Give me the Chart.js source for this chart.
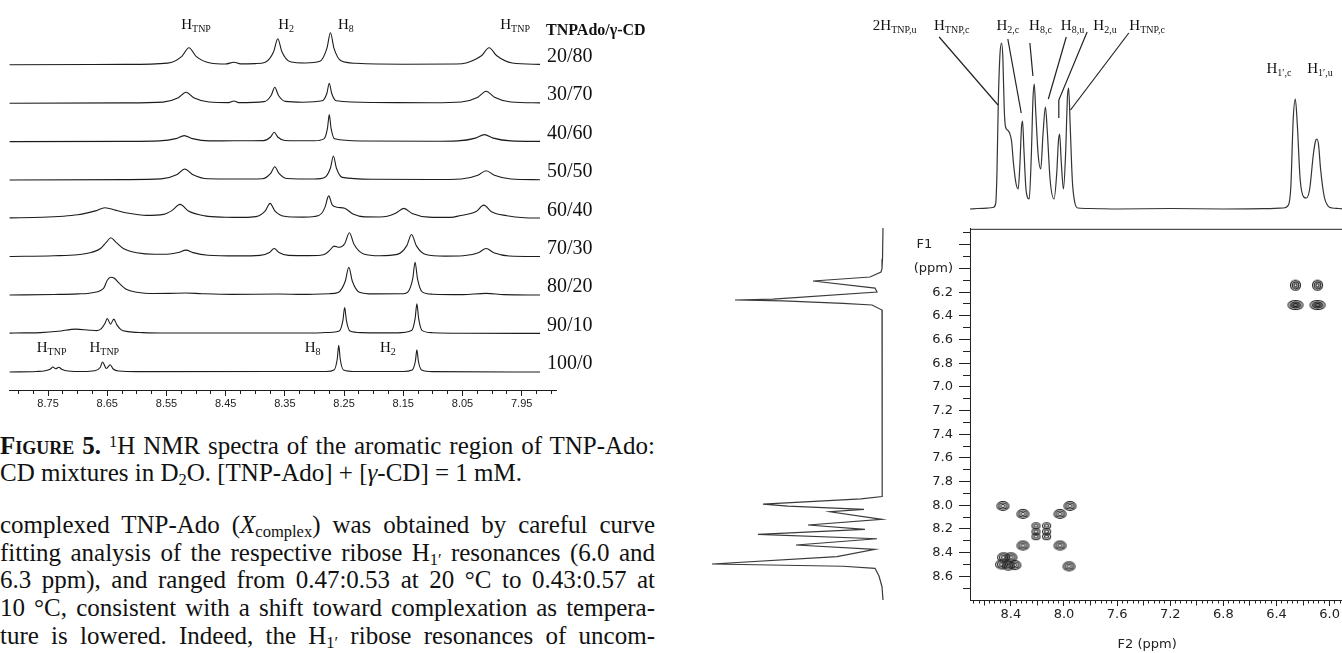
<!DOCTYPE html>
<html>
<head>
<meta charset="utf-8">
<script src="https://cdn.jsdelivr.net/npm/chart.js@4.4.1/dist/chart.umd.min.js"></script>
<style>
  body { margin: 0; width: 1342px; height: 653px; overflow: hidden; background: #fff; position: relative; }
  canvas { position: absolute; }
  .ln { position: absolute; left: 0; white-space: nowrap; font-family: "Liberation Serif", serif; font-size: 25px; line-height: 27px; color: #111; }
  .ln sub, .ln sup { font-size: 0.66em; line-height: 0; }
  .ln sub { vertical-align: -0.25em; }
  .ln sup { vertical-align: 0.45em; }
</style>
</head>
<body>
<canvas id="spectra" width="660" height="420" style="left:0;top:0"></canvas>
<canvas id="topProj" width="654" height="215" style="left:690px;top:0"></canvas>
<canvas id="leftProj" width="280" height="375" style="left:690px;top:225px"></canvas>
<canvas id="cosy" width="444" height="438" style="left:900px;top:215px"></canvas>

<div class="ln j" style="top:432px"><span><b style="font-variant:small-caps">Figure 5.</b> <sup>1</sup>H NMR spectra of the aromatic region of TNP-Ado:</span></div>
<div class="ln" style="top:459px"><span>CD mixtures in D<sub>2</sub>O. [TNP-Ado] + [<i>γ</i>-CD] = 1 mM.</span></div>
<div class="ln j" style="top:511px"><span>complexed TNP-Ado (<i>X</i><sub>complex</sub>) was obtained by careful curve</span></div>
<div class="ln j" style="top:539px"><span>fitting analysis of the respective ribose H<sub>1′</sub> resonances (6.0 and</span></div>
<div class="ln j" style="top:566px"><span>6.3 ppm), and ranged from 0.47:0.53 at 20 °C to 0.43:0.57 at</span></div>
<div class="ln j" style="top:594px"><span>10 °C, consistent with a shift toward complexation as tempera-</span></div>
<div class="ln j" style="top:622px"><span>ture is lowered. Indeed, the H<sub>1′</sub> ribose resonances of uncom-</span></div>

<script>
// ---------- left figure: 1D spectra, [ppm, intensity] ----------
const RATIOS = ['20/80', '30/70', '40/60', '50/50', '60/40', '70/30', '80/20', '90/10', '100/0'];

const T20_80 = [[8.815,0],[8.62,0.4],[8.548,1.7],[8.524,8.5],[8.512,17],[8.500,8.5],[8.476,1.8],[8.45,0.8],[8.436,2.5],[8.425,0.9],[8.40,1.2],[8.383,2.6],[8.369,13],[8.362,26],[8.355,13],[8.341,3],[8.315,1.8],[8.291,3.5],[8.279,16.5],[8.273,32],[8.267,16.5],[8.255,4],[8.23,1.5],[8.15,0.6],[8.06,0.8],[8.044,1.8],[8.018,9],[8.005,17],[7.992,9],[7.966,1.8],[7.919,0.4]];
const T30_70 = [[8.815,0],[8.62,0.3],[8.556,1.1],[8.530,5.5],[8.517,11],[8.504,5.5],[8.478,1.2],[8.445,0.6],[8.436,2.2],[8.428,0.6],[8.385,1.6],[8.373,8],[8.367,16],[8.361,8],[8.349,1.8],[8.32,1],[8.287,2.4],[8.279,10],[8.275,20],[8.271,10],[8.263,2.4],[8.20,0.7],[8.10,0.4],[8.052,1.2],[8.024,6],[8.010,12],[7.996,6],[7.968,1.2],[7.919,0.3]];
const T40_60 = [[8.815,0],[8.62,0.2],[8.562,0.7],[8.534,3],[8.520,6],[8.506,3],[8.478,0.7],[8.436,0.8],[8.386,1],[8.374,4.6],[8.368,9.3],[8.362,4.6],[8.350,1.1],[8.30,0.8],[8.284,2.7],[8.278,13.5],[8.275,27],[8.272,13.5],[8.266,2.8],[8.22,0.6],[8.10,0.3],[8.058,0.7],[8.028,3.5],[8.013,7],[7.998,3.5],[7.968,0.7],[7.919,0.2]];
const T50_50 = [[8.815,0],[8.62,0.4],[8.559,1.1],[8.532,5.5],[8.519,11],[8.506,5.5],[8.480,1.2],[8.436,1],[8.388,1.3],[8.374,6.7],[8.367,13.3],[8.360,6.7],[8.346,1.5],[8.30,1],[8.283,2.5],[8.273,12],[8.268,24],[8.263,12],[8.253,2.6],[8.20,0.7],[8.10,0.5],[8.052,1],[8.024,4.7],[8.010,9.3],[7.996,4.7],[7.968,1],[7.919,0.3]];
const T60_40 = [[8.815,0.5],[8.76,1.1],[8.724,2.2],[8.70,3.6],[8.689,4.8],[8.67,7.5],[8.654,10.7],[8.635,8],[8.619,5.6],[8.60,3.9],[8.584,3.0],[8.555,4],[8.541,7.8],[8.527,14],[8.513,7.4],[8.485,2.5],[8.45,1.2],[8.42,1],[8.399,1.8],[8.383,7.6],[8.375,15],[8.367,7.6],[8.351,2.2],[8.32,1.3],[8.30,1.9],[8.288,4.9],[8.282,11.5],[8.276,22.5],[8.270,13.5],[8.262,11.2],[8.249,10.2],[8.235,4.3],[8.215,1.5],[8.19,1.4],[8.177,2.2],[8.163,5.1],[8.149,10],[8.135,5],[8.107,1.3],[8.07,1.0],[8.053,2.9],[8.027,6.8],[8.014,13.3],[8.001,6.65],[7.975,2.7],[7.945,0.7],[7.919,0.4]];
const T70_30 = [[8.815,0.3],[8.74,1],[8.70,2],[8.683,3.5],[8.662,8],[8.651,15],[8.644,19],[8.636,15],[8.622,8],[8.60,4],[8.57,2.5],[8.545,2.8],[8.53,4.3],[8.517,6.7],[8.505,4.2],[8.48,1.6],[8.43,0.9],[8.392,1.4],[8.376,4.3],[8.368,8.3],[8.360,4.3],[8.344,1.4],[8.31,1.2],[8.29,1.5],[8.281,3],[8.274,6.6],[8.267,10.7],[8.258,9.5],[8.249,13],[8.241,24],[8.233,12.2],[8.217,2.8],[8.19,1.0],[8.160,2.4],[8.144,11.2],[8.136,22.3],[8.128,11.2],[8.112,2.3],[8.08,0.7],[8.049,1.0],[8.023,4.15],[8.010,8.3],[7.997,4.15],[7.971,0.85],[7.919,0.3]];
const T80_20 = [[8.815,0.2],[8.74,0.7],[8.70,1.3],[8.675,2.5],[8.656,7],[8.650,15],[8.644,18],[8.638,17],[8.630,12],[8.618,6],[8.60,3],[8.57,1.7],[8.545,1.8],[8.517,2.2],[8.49,1.5],[8.44,0.8],[8.36,1.2],[8.32,0.8],[8.275,1.5],[8.260,2.8],[8.248,14],[8.242,28],[8.236,14],[8.224,3.0],[8.20,1.3],[8.150,1.5],[8.142,3.3],[8.134,16.5],[8.130,33],[8.126,16.5],[8.118,3.3],[8.10,1],[8.05,0.6],[8.01,1.8],[7.98,0.6],[7.919,0.2]];
const T90_10 = [[8.815,0.5],[8.79,0.7],[8.763,1],[8.733,2.3],[8.703,4.5],[8.68,3.4],[8.668,3],[8.660,5],[8.654,10],[8.650,15],[8.6445,9.5],[8.639,14.5],[8.634,9],[8.627,4],[8.615,2],[8.59,1],[8.55,0.6],[8.30,0.6],[8.27,1.4],[8.258,2.6],[8.252,13],[8.249,26],[8.246,13],[8.240,2.6],[8.22,1],[8.16,0.7],[8.136,3],[8.130,15],[8.127,29.7],[8.124,15],[8.118,3],[8.10,0.9],[8.05,0.4],[7.919,0.2]];
const T100_0 = [[8.815,0],[8.77,0.5],[8.755,1.2],[8.746,3],[8.742,5],[8.737,3.3],[8.732,4.8],[8.727,2.8],[8.716,1],[8.69,0.5],[8.672,1.2],[8.662,4.5],[8.658,10],[8.6515,3.5],[8.645,7.3],[8.640,3],[8.630,1],[8.60,0.4],[8.28,0.5],[8.267,2],[8.2615,13],[8.259,26.7],[8.2565,13],[8.251,2],[8.23,0.5],[8.15,0.5],[8.135,2],[8.1295,11],[8.127,22.3],[8.1245,11],[8.119,2],[8.10,0.4],[7.919,0]];

const TRACES = [T20_80, T30_70, T40_60, T50_50, T60_40, T70_30, T80_20, T90_10, T100_0];
const PPM_TICKS = ['8.75', '8.65', '8.55', '8.45', '8.35', '8.25', '8.15', '8.05', '7.95'];

// ---------- right figure: 2D spectrum ----------
// top (F2) projection [ppm, intensity]
const TOP_PROJ = [[8.708,0],[8.65,0.5],[8.58,0.8],[8.535,1.5],[8.515,5],[8.505,35],[8.495,105],[8.482,155],[8.470,166],[8.460,150],[8.450,100],[8.44,82],[8.425,79],[8.410,76],[8.395,68],[8.380,45],[8.362,26],[8.345,20],[8.332,45],[8.320,82],[8.312,88],[8.302,60],[8.285,18],[8.262,10],[8.247,50],[8.233,112],[8.224,125],[8.213,98],[8.195,55],[8.175,40],[8.158,75],[8.140,102],[8.126,78],[8.105,30],[8.075,10],[8.055,35],[8.042,68],[8.033,75],[8.021,48],[8.004,20],[7.988,55],[7.974,112],[7.965,121],[7.953,82],[7.937,28],[7.918,6],[7.895,1],[7.80,0.5],[7.6,0],[7.2,0.5],[6.8,0],[6.5,0.3],[6.35,1],[6.31,4],[6.292,22],[6.274,90],[6.258,110],[6.243,84],[6.222,30],[6.195,12],[6.175,11],[6.150,20],[6.122,55],[6.106,68],[6.095,70],[6.083,64],[6.068,40],[6.040,12],[6.012,3],[5.98,1],[5.93,0.5],[5.892,0]];
// left (F1) projection [ppm, intensity]
const LEFT_PROJ = [[5.690,0],[5.95,0.5],[6.03,1],[6.058,2],[6.10,13],[6.133,70],[6.192,8],[6.225,6],[6.285,110],[6.292,148],[6.300,100],[6.320,40],[6.334,11],[6.376,1],[6.6,0.5],[7.0,1],[7.4,0.5],[7.8,1],[7.935,1],[7.955,22],[7.998,120],[8.016,95],[8.042,19],[8.062,53],[8.126,1],[8.173,75],[8.209,18],[8.251,125],[8.288,6],[8.340,87],[8.376,8],[8.438,46],[8.499,171],[8.518,40],[8.535,8],[8.60,4],[8.689,1],[8.80,0]];

const CROSS_F2 = [7.955, 8.460, 8.030, 8.309, 8.309, 8.030, 7.962];
const CROSS_F1 = [8.006, 8.006, 8.073, 8.073, 8.340, 8.340, 8.516];
const CLUSTER_F2 = [8.211, 8.131, 8.211, 8.131, 8.211, 8.131];
const CLUSTER_F1 = [8.173, 8.173, 8.223, 8.223, 8.265, 8.265];
const BLOB_F2 = [8.455, 8.400, 8.470, 8.420, 8.370];
const BLOB_F1 = [8.440, 8.440, 8.500, 8.510, 8.505];
const H1_F2 = [6.257, 6.091, 6.257, 6.091];
const H1_F1 = [6.141, 6.141, 6.309, 6.309];

const F2_TICKS = ['8.4', '8.0', '7.6', '7.2', '6.8', '6.4', '6.0'];
const F1_TICK_VALUES = [5.8, 6.0, 6.2, 6.4, 6.6, 6.8, 7.0, 7.2, 7.4, 7.6, 7.8, 8.0, 8.2, 8.4, 8.6];
const F1_TICK_LABELS = ['F1', '(ppm)', '6.2', '6.4', '6.6', '6.8', '7.0', '7.2', '7.4', '7.6', '7.8', '8.0', '8.2', '8.4', '8.6'];

// ---------- layout ----------
const GAP = 38.4;   // spacing of the stacked spectra (px)
const BASE0 = 18;   // bottom spectrum baseline above the axis
const baseOf = i => BASE0 + (TRACES.length - 1 - i) * GAP;

const SPEC_LABELS = [
  { main: 'H', sub: 'TNP', ppm: 8.500, v: 366 },
  { main: 'H', sub: '2', ppm: 8.348, v: 366 },
  { main: 'H', sub: '8', ppm: 8.247, v: 366 },
  { main: 'H', sub: 'TNP', ppm: 7.961, v: 366 },
  { main: 'H', sub: 'TNP', ppm: 8.744, v: 43 },
  { main: 'H', sub: 'TNP', ppm: 8.655, v: 43 },
  { main: 'H', sub: '8', ppm: 8.303, v: 43 },
  { main: 'H', sub: '2', ppm: 8.176, v: 43 }
];
const PROJ_LABELS = [
  { main: '2H', sub: 'TNP,u', ppm: 9.275, v: 184 },
  { main: 'H', sub: 'TNP,c', ppm: 8.845, v: 184 },
  { main: 'H', sub: '2,c', ppm: 8.423, v: 184 },
  { main: 'H', sub: '8,c', ppm: 8.177, v: 184 },
  { main: 'H', sub: '8,u', ppm: 7.936, v: 184 },
  { main: 'H', sub: '2,u', ppm: 7.691, v: 184 },
  { main: 'H', sub: 'TNP,c', ppm: 7.374, v: 184 },
  { main: 'H', sub: '1′,c', ppm: 6.381, v: 141 },
  { main: 'H', sub: '1′,u', ppm: 6.072, v: 141 }
];
const LEADERS = [
  [[8.940, 172], [8.497, 104]],
  [[8.423, 170], [8.322, 96]],
  [[8.257, 166], [8.234, 133]],
  [[7.983, 172], [8.118, 110]],
  [[7.826, 177], [8.039, 109], [8.039, 91]],
  [[7.512, 176], [7.951, 99]]
];

const INK = '#1c1c1c';

function drawSub(ctx, cx, cy, main, sub, size) {
  const subSize = Math.round(size * 0.64);
  ctx.font = size + 'px "Liberation Serif"';
  const w1 = ctx.measureText(main).width;
  ctx.font = subSize + 'px "Liberation Serif"';
  const w2 = ctx.measureText(sub).width;
  const x0 = cx - (w1 + w2) / 2;
  const base = cy + size * 0.34;
  ctx.textAlign = 'left';
  ctx.textBaseline = 'alphabetic';
  ctx.font = size + 'px "Liberation Serif"';
  ctx.fillText(main, x0, base);
  ctx.font = subSize + 'px "Liberation Serif"';
  ctx.fillText(sub, x0 + w1, base + size * 0.2);
}

const near = (a, b) => Math.abs(a - b) < 1e-6;
const baseOpts = {
  responsive: false, animation: false, devicePixelRatio: 1,
  plugins: { legend: { display: false }, tooltip: { enabled: false } },
  events: []
};

// ---------- 1D spectra ----------
const ppmMajors = PPM_TICKS.map(Number);
const ppmAll = [];
for (let k = -2; k <= 34; k++) ppmAll.push(+(8.75 - k * 0.025).toFixed(3));

const spectraLabels = {
  id: 'spectraLabels',
  afterDatasetsDraw(chart) {
    const { ctx, scales: { x, y } } = chart;
    ctx.save();
    ctx.fillStyle = '#111';
    ctx.textAlign = 'left';
    ctx.textBaseline = 'middle';
    ctx.font = '20px "Liberation Serif"';
    TRACES.forEach((t, i) => {
      const last = t[t.length - 1];
      ctx.fillText(RATIOS[i], x.getPixelForValue(last[0]) + 7, y.getPixelForValue(baseOf(i)) - 8);
    });
    ctx.font = 'bold 16px "Liberation Serif"';
    ctx.fillText('TNPAdo/γ-CD', x.getPixelForValue(7.919) + 6, y.getPixelForValue(baseOf(0)) - 34);
    SPEC_LABELS.forEach(l => drawSub(ctx, x.getPixelForValue(l.ppm), y.getPixelForValue(l.v), l.main, l.sub, 15));
    ctx.restore();
  }
};

new Chart(document.getElementById('spectra'), {
  type: 'scatter',
  data: {
    datasets: TRACES.map((t, i) => ({
      data: t.map(([p, v]) => ({ x: p, y: v + baseOf(i) })),
      showLine: true, pointRadius: 0, borderColor: INK, borderWidth: 1.1,
      cubicInterpolationMode: 'monotone'
    }))
  },
  options: {
    ...baseOpts,
    layout: { padding: { left: 9, right: 104, top: 0, bottom: 0 }, autoPadding: false },
    scales: {
      x: {
        type: 'linear', reverse: true, min: 7.892, max: 8.816, bounds: 'data',
        afterBuildTicks: s => { s.ticks = ppmAll.map(v => ({ value: v })); },
        afterFit: s => { s.height = 30; },
        grid: {
          drawOnChartArea: false, tickLength: 6, color: INK,
          tickBorderDash: c => (c.tick && !ppmMajors.some(m => near(m, c.tick.value))) ? [3, 100] : []
        },
        border: { color: INK, width: 1 },
        ticks: {
          autoSkip: false, maxRotation: 0, padding: 1, color: '#222',
          font: { family: 'Liberation Sans', size: 11 },
          callback: v => { const i = ppmMajors.findIndex(m => near(m, v)); return i >= 0 ? PPM_TICKS[i] : ''; }
        }
      },
      y: { type: 'linear', display: false, min: 0, max: 390 }
    }
  },
  plugins: [spectraLabels]
});

// ---------- 2D: shared axes ----------
const F2_MIN = 5.8916, F2_MAX = 8.7078;
const F1_MIN = 5.665, F1_MAX = 8.80;

const projLabels = {
  id: 'projLabels',
  afterDatasetsDraw(chart) {
    const { ctx, scales: { x, y } } = chart;
    ctx.save();
    ctx.strokeStyle = '#222';
    ctx.lineWidth = 1.2;
    LEADERS.forEach(path => {
      ctx.beginPath();
      path.forEach(([p, v], k) => {
        const px = x.getPixelForValue(p), py = y.getPixelForValue(v);
        if (k) ctx.lineTo(px, py); else ctx.moveTo(px, py);
      });
      ctx.stroke();
    });
    ctx.fillStyle = '#111';
    PROJ_LABELS.forEach(l => drawSub(ctx, x.getPixelForValue(l.ppm), y.getPixelForValue(l.v), l.main, l.sub, 15));
    ctx.restore();
  }
};

new Chart(document.getElementById('topProj'), {
  type: 'scatter',
  data: {
    datasets: [{
      data: TOP_PROJ.map(([p, v]) => ({ x: p, y: v })),
      showLine: true, pointRadius: 0, borderColor: '#333', borderWidth: 1.2,
      cubicInterpolationMode: 'monotone'
    }]
  },
  options: {
    ...baseOpts,
    layout: { padding: { left: 280, right: 0, top: 0, bottom: 0 }, autoPadding: false },
    scales: {
      x: { type: 'linear', display: false, reverse: true, min: F2_MIN, max: F2_MAX },
      y: { type: 'linear', display: false, min: -6, max: 209 }
    }
  },
  plugins: [projLabels]
});

new Chart(document.getElementById('leftProj'), {
  type: 'scatter',
  data: {
    datasets: [{
      data: LEFT_PROJ.map(([p, v]) => ({ x: v, y: p })),
      showLine: true, pointRadius: 0, borderColor: '#3a3a3a', borderWidth: 1.2, tension: 0
    }]
  },
  options: {
    ...baseOpts,
    layout: { padding: 0, autoPadding: false },
    scales: {
      x: { type: 'linear', display: false, reverse: true, min: -87, max: 193 },
      y: { type: 'linear', display: false, reverse: true, min: F1_MIN, max: F1_MAX }
    }
  }
});

// contour marker images
function contour(w, h, rings, shade) {
  const c = document.createElement('canvas');
  c.width = w + 3; c.height = h + 3;
  const g = c.getContext('2d');
  g.strokeStyle = '#1e1e1e';
  g.lineWidth = 1.1;
  if (shade) {
    g.fillStyle = 'rgba(40,40,40,0.6)';
    g.beginPath();
    g.ellipse(c.width / 2, c.height / 2, w / 2 * 0.8, h / 2 * 0.8, 0, 0, Math.PI * 2);
    g.fill();
  }
  for (let k = 0; k < rings; k++) {
    const f = 1 - k / rings;
    g.beginPath();
    g.ellipse(c.width / 2, c.height / 2, Math.max(0.8, w / 2 * f), Math.max(0.8, h / 2 * f), 0, 0, Math.PI * 2);
    g.stroke();
  }
  return c;
}

const f2Majors = F2_TICKS.map(Number);
const f2All = [];
for (let k = -7; k <= 62; k++) f2All.push(+(8.4 - k * 0.04).toFixed(2));
const f2Step = v => Math.round((8.4 - v) / 0.04);

const f1All = [];
F1_TICK_VALUES.forEach(v => { f1All.push(+(v - 0.1).toFixed(2)); f1All.push(v); });
f1All.push(8.7);

const cosyFrame = {
  id: 'cosyFrame',
  afterDraw(chart) {
    const { ctx, chartArea: a, scales: { x } } = chart;
    ctx.save();
    ctx.strokeStyle = '#222';
    ctx.lineWidth = 1;
    ctx.beginPath();
    ctx.moveTo(a.left, a.top + 0.5);
    ctx.lineTo(a.right, a.top + 0.5);
    ctx.stroke();
    ctx.fillStyle = '#222';
    ctx.font = '13px "DejaVu Sans"';
    ctx.textAlign = 'center';
    ctx.textBaseline = 'middle';
    ctx.fillText('F2 (ppm)', x.getPixelForValue(7.374), a.bottom + 45);
    ctx.restore();
  }
};

const pts = (xs, ys) => xs.map((x, i) => ({ x, y: ys[i] }));
const mk = (data, style) => ({ data, pointStyle: style, pointRadius: 5, clip: false });

new Chart(document.getElementById('cosy'), {
  type: 'scatter',
  data: {
    datasets: [
      mk(pts(CROSS_F2, CROSS_F1), contour(12, 9, 3, false)),
      mk(pts(CLUSTER_F2, CLUSTER_F1), contour(8, 6, 2, false)),
      mk(pts(BLOB_F2, BLOB_F1), contour(12, 9, 3, false)),
      mk(pts(H1_F2.slice(0, 2), H1_F1.slice(0, 2)), contour(10, 10, 3, false)),
      mk(pts(H1_F2.slice(2), H1_F1.slice(2)), contour(15, 9, 3, true))
    ]
  },
  options: {
    ...baseOpts,
    layout: { padding: { left: 0, right: 0, top: 10, bottom: 0 }, autoPadding: false },
    scales: {
      x: {
        type: 'linear', reverse: true, min: F2_MIN, max: F2_MAX, bounds: 'data',
        afterBuildTicks: s => { s.ticks = f2All.map(v => ({ value: v })); },
        afterFit: s => { s.height = 53; },
        grid: {
          drawOnChartArea: false, tickLength: 6, color: '#222',
          tickBorderDash: c => {
            if (!c.tick) return [];
            const k = f2Step(c.tick.value);
            return k % 10 === 0 ? [] : (k % 5 === 0 ? [4.5, 100] : [2.5, 100]);
          }
        },
        border: { color: '#222', width: 1 },
        ticks: {
          autoSkip: false, maxRotation: 0, padding: 1, color: '#222',
          font: { family: 'DejaVu Sans', size: 13 },
          callback: v => { const i = f2Majors.findIndex(m => near(m, v)); return i >= 0 ? F2_TICKS[i] : ''; }
        }
      },
      y: {
        type: 'linear', reverse: true, min: F1_MIN, max: F1_MAX, bounds: 'data',
        afterBuildTicks: s => { s.ticks = f1All.map(v => ({ value: v })); },
        afterFit: s => { s.width = 70; },
        grid: {
          drawOnChartArea: false, tickLength: 11, color: '#222',
          tickBorderDash: c => (c.tick && !F1_TICK_VALUES.some(m => near(m, c.tick.value))) ? [0, 4, 7, 100] : []
        },
        border: { color: '#222', width: 1 },
        ticks: {
          autoSkip: false, padding: 6, color: '#222',
          font: { family: 'DejaVu Sans', size: 13 },
          callback: v => {
            const i = F1_TICK_VALUES.findIndex(m => near(m, v));
            if (i < 0) return '';
            // the axis name sits left-aligned with "(ppm)"
            return i === 0 ? F1_TICK_LABELS[i] + '     ' : F1_TICK_LABELS[i];
          }
        }
      }
    }
  },
  plugins: [cosyFrame]
});

// justify the text lines to the column width
document.querySelectorAll('.ln.j').forEach(div => {
  const span = div.firstElementChild;
  const natural = span.getBoundingClientRect().width;
  const spaces = (span.textContent.match(/ /g) || []).length;
  span.style.wordSpacing = ((655 - natural) / spaces) + 'px';
});
</script>
</body>
</html>
